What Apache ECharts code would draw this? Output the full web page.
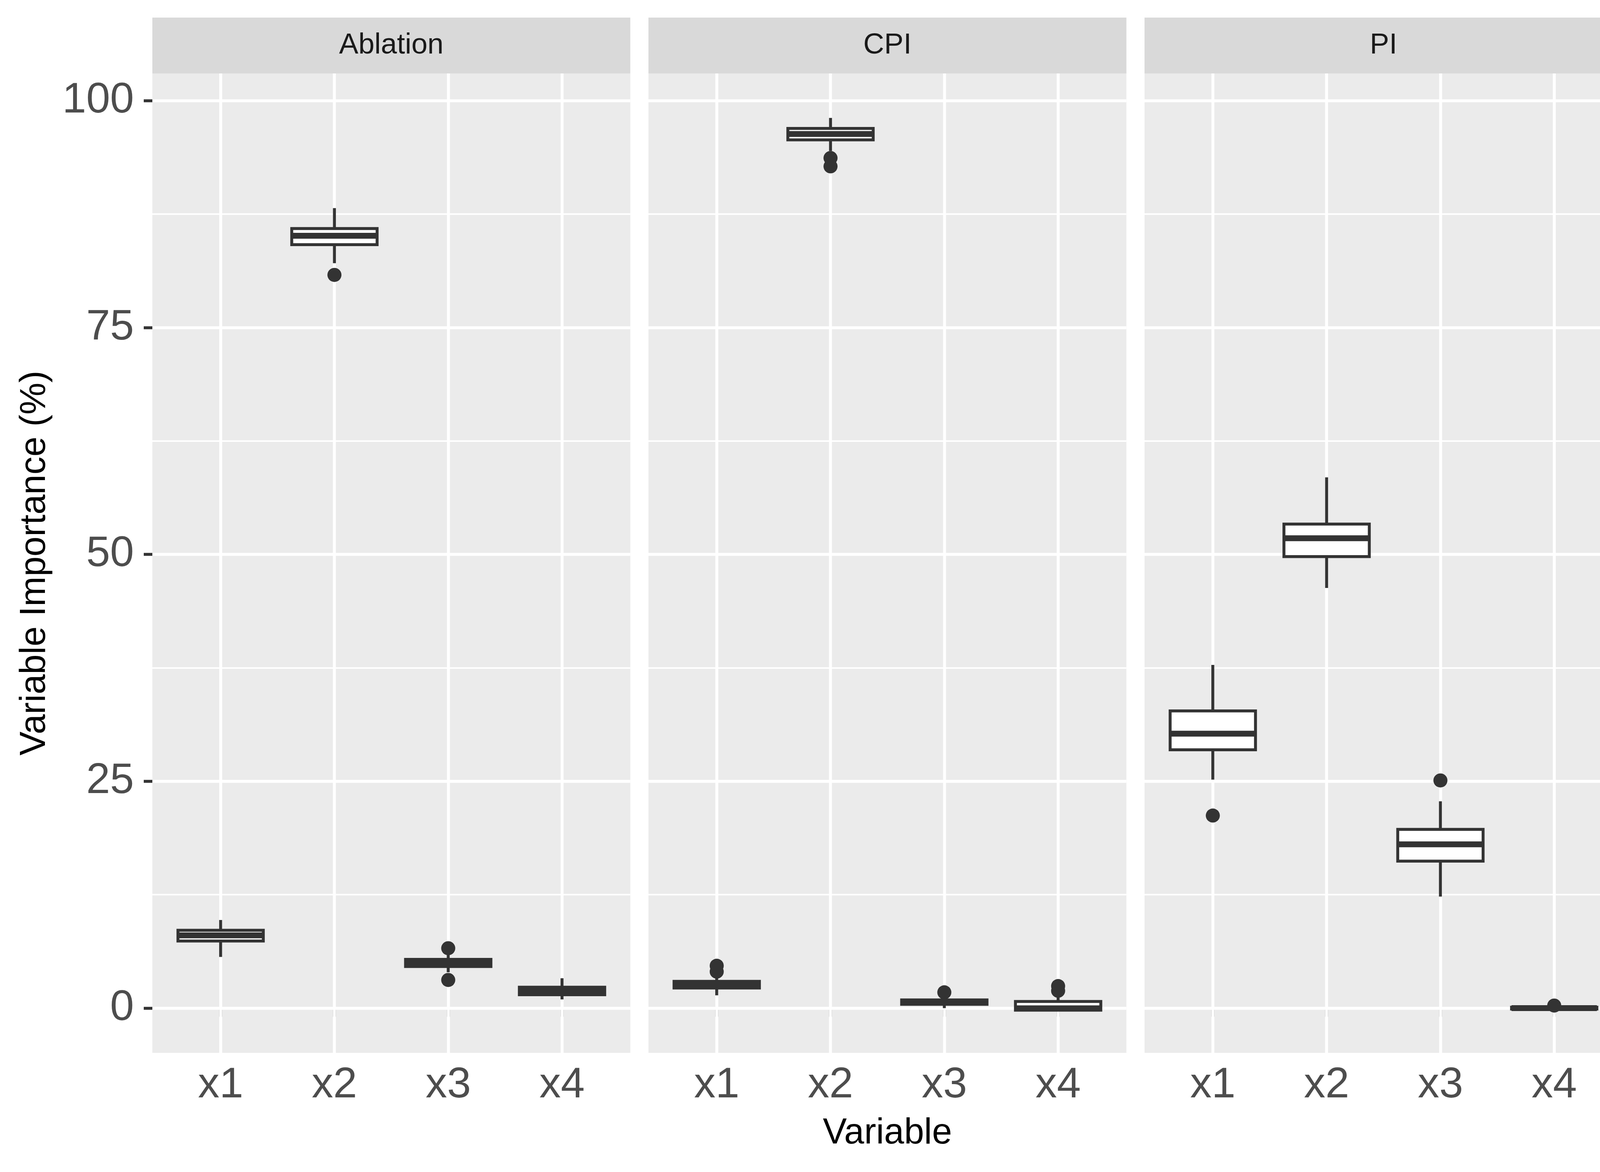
<!DOCTYPE html>
<html>
<head>
<meta charset="utf-8">
<script src="https://cdn.jsdelivr.net/npm/echarts@6/dist/echarts.min.js"></script>
<style>
  html, body { margin: 0; padding: 0; background: #FFFFFF; }
  #chart { width: 4200px; height: 3000px; }
</style>
</head>
<body>
<div id="chart"></div>
<script>
// ---------------- data ----------------
const facets = ['Ablation', 'CPI', 'PI'];
const variables = ['x1', 'x2', 'x3', 'x4'];
const yTicks = [0, 25, 50, 75, 100];
const yMinorTicks = [12.5, 37.5, 62.5, 87.5];

// each box: [lower whisker, Q1, median, Q3, upper whisker], in variable order
const ablationBoxes = [
  [5.64, 7.39, 8.02, 8.58, 9.71],
  [82.09, 84.13, 85.11, 85.91, 88.16],
  [3.95, 4.58, 4.98, 5.37, 5.95],
  [0.96, 1.47, 1.90, 2.30, 3.29]
];
const cpiBoxes = [
  [1.41, 2.22, 2.60, 2.95, 3.40],
  [94.45, 95.68, 96.33, 96.94, 98.10],
  [0.00, 0.42, 0.65, 0.90, 1.30],
  [-0.23, -0.23, -0.02, 0.73, 1.50]
];
const piBoxes = [
  [25.18, 28.47, 30.24, 32.75, 37.82],
  [46.30, 49.76, 51.78, 53.34, 58.49],
  [12.29, 16.20, 18.05, 19.70, 22.79],
  [-0.12, -0.10, 0.00, 0.10, 0.15]
];

// outliers: [variable, value]
const ablationOutliers = [['x2', 80.80], ['x3', 6.60], ['x3', 3.10]];
const cpiOutliers = [['x1', 4.67], ['x1', 4.02], ['x2', 93.68], ['x2', 92.76], ['x3', 1.74], ['x4', 2.43], ['x4', 1.91]];
const piOutliers = [['x1', 21.22], ['x3', 25.09], ['x4', 0.28]];

const boxesByFacet = [ablationBoxes, cpiBoxes, piBoxes];
const outliersByFacet = [ablationOutliers, cpiOutliers, piOutliers];

// ---------------- layout / style ----------------
const FONT = '"Liberation Sans", Arial, Helvetica, sans-serif';
const PANEL_LEFT = 390, PANEL_W = 1223.6, PANEL_GAP = 46.4;
const PANEL_TOP = 188, PANEL_BOTTOM = 2695;
const STRIP_TOP = 45;
const Y_MIN = -4.93, Y_MAX = 103.0;
const BOX_WIDTH = 0.75;
const LINE_COLOR = '#333333';
const BOX_LW = 7.5, MEDIAN_LW = 15;
const GRID_MAJOR_LW = 7.5, GRID_MINOR_LW = 3.8;

const xPositions = variables.map((_, k) => k + 1);

function renderBox(params, api) {
  const x = api.value(0);
  const lo = api.value(1), q1 = api.value(2), med = api.value(3), q3 = api.value(4), hi = api.value(5);
  const half = api.size([BOX_WIDTH, 0])[0] / 2;
  const c = v => api.coord([x, v]);
  const pLo = c(lo), pQ1 = c(q1), pMed = c(med), pQ3 = c(q3), pHi = c(hi);
  return {
    type: 'group',
    children: [
      { type: 'line', shape: { x1: pHi[0], y1: pHi[1], x2: pQ3[0], y2: pQ3[1] },
        style: { stroke: LINE_COLOR, lineWidth: BOX_LW } },
      { type: 'line', shape: { x1: pQ1[0], y1: pQ1[1], x2: pLo[0], y2: pLo[1] },
        style: { stroke: LINE_COLOR, lineWidth: BOX_LW } },
      { type: 'rect', shape: { x: pQ3[0] - half, y: pQ3[1], width: 2 * half, height: pQ1[1] - pQ3[1] },
        style: { fill: '#FFFFFF', stroke: LINE_COLOR, lineWidth: BOX_LW, lineJoin: 'miter' } },
      { type: 'line', shape: { x1: pMed[0] - half, y1: pMed[1], x2: pMed[0] + half, y2: pMed[1] },
        style: { stroke: LINE_COLOR, lineWidth: MEDIAN_LW, lineCap: 'butt' } }
    ]
  };
}

const grids = [], xAxes = [], yAxes = [], series = [], titles = [];

facets.forEach((facet, i) => {
  const left = PANEL_LEFT + i * (PANEL_W + PANEL_GAP);
  // main panel
  grids.push({ left: left, top: PANEL_TOP, width: PANEL_W, height: PANEL_BOTTOM - PANEL_TOP,
    show: true, backgroundColor: '#EBEBEB', borderWidth: 0, containLabel: false });
  xAxes.push({
    gridIndex: i, type: 'value', min: 1 - 0.6, max: variables.length + 0.6,
    axisLine: { show: false }, splitLine: { show: false },
    axisTick: { show: true, customValues: xPositions, length: 22, lineStyle: { color: LINE_COLOR, width: 7.5 } },
    axisLabel: { show: true, customValues: xPositions, formatter: v => variables[Math.round(v) - 1] || '',
      margin: 29, fontSize: 110, color: '#4D4D4D', fontFamily: FONT },
    name: i === 1 ? 'Variable' : '', nameLocation: 'middle', nameGap: 161,
    nameTextStyle: { fontSize: 92, color: '#000000', fontFamily: FONT }
  });
  yAxes.push({
    gridIndex: i, type: 'value', min: Y_MIN, max: Y_MAX,
    axisLine: { show: false }, splitLine: { show: false },
    axisTick: { show: i === 0, customValues: yTicks, length: 22, lineStyle: { color: LINE_COLOR, width: 7.5 } },
    axisLabel: { show: i === 0, customValues: yTicks, formatter: v => String(v),
      margin: 47, fontSize: 110, color: '#4D4D4D', fontFamily: FONT },
    name: i === 0 ? 'Variable Importance (%)' : '', nameLocation: 'middle', nameGap: 254, nameRotate: 90,
    nameTextStyle: { fontSize: 92, color: '#000000', fontFamily: FONT }
  });

  const gridLines = [];
  yMinorTicks.forEach(v => gridLines.push({ yAxis: v, lineStyle: { width: GRID_MINOR_LW } }));
  yTicks.forEach(v => gridLines.push({ yAxis: v, lineStyle: { width: GRID_MAJOR_LW } }));
  xPositions.forEach(v => gridLines.push({ xAxis: v, lineStyle: { width: GRID_MAJOR_LW } }));

  series.push({
    type: 'custom', name: facet + ' boxes', xAxisIndex: i, yAxisIndex: i, z: 3,
    renderItem: renderBox,
    encode: { x: 0, y: [1, 2, 3, 4, 5] },
    data: boxesByFacet[i].map((b, k) => [xPositions[k]].concat(b))
  });
  series.push({
    type: 'scatter', name: facet + ' outliers', xAxisIndex: i, yAxisIndex: i, z: 4,
    symbol: 'circle', symbolSize: 36,
    itemStyle: { color: LINE_COLOR, opacity: 1 },
    data: outliersByFacet[i].map(o => [variables.indexOf(o[0]) + 1, o[1]]),
    markLine: {
      z: 1, silent: true, symbol: 'none', animation: false,
      label: { show: false }, emphasis: { disabled: true },
      lineStyle: { color: '#FFFFFF', type: 'solid', opacity: 1 },
      data: gridLines
    }
  });

  // strip
  titles.push({
    text: facet, left: left + PANEL_W / 2, top: STRIP_TOP + (PANEL_TOP - STRIP_TOP) / 2,
    textAlign: 'center', textVerticalAlign: 'middle', padding: 0,
    textStyle: { fontSize: 74, fontWeight: 'normal', color: '#1A1A1A', fontFamily: FONT }
  });
});

// strip background grids
facets.forEach((facet, i) => {
  const left = PANEL_LEFT + i * (PANEL_W + PANEL_GAP);
  grids.push({ left: left, top: STRIP_TOP, width: PANEL_W, height: PANEL_TOP - STRIP_TOP,
    show: true, backgroundColor: '#D9D9D9', borderWidth: 0 });
  xAxes.push({ gridIndex: 3 + i, type: 'value', show: false, splitLine: { show: false } });
  yAxes.push({ gridIndex: 3 + i, type: 'value', show: false, splitLine: { show: false } });
});

const chart = echarts.init(document.getElementById('chart'), null, { renderer: 'canvas', width: 4200, height: 3000 });
chart.setOption({
  animation: false,
  backgroundColor: '#FFFFFF',
  textStyle: { fontFamily: FONT },
  title: titles,
  grid: grids,
  xAxis: xAxes,
  yAxis: yAxes,
  series: series
});
</script>
</body>
</html>
